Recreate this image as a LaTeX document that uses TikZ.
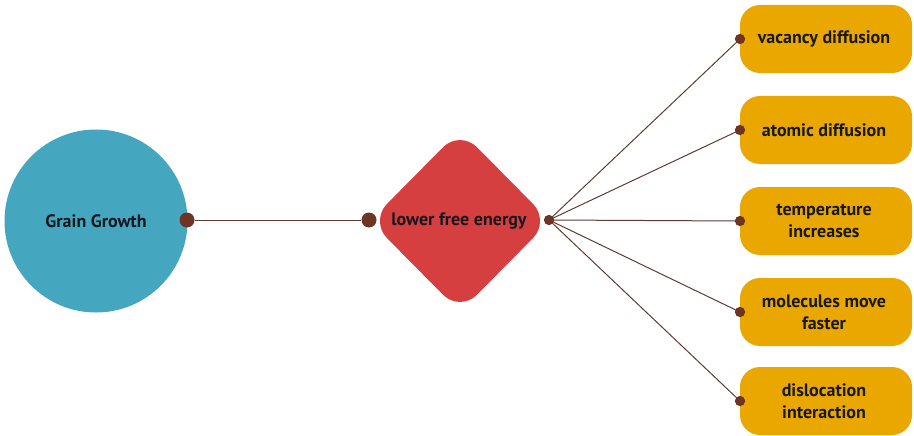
\documentclass[tikz,border=0pt]{standalone}
\usepackage{fontspec}
\setmainfont{PT Sans}
\usetikzlibrary{shapes.geometric}
\definecolor{teal}{HTML}{45A6C0}
\definecolor{redd}{HTML}{D63F40}
\definecolor{gold}{HTML}{E9A700}
\definecolor{dotc}{HTML}{6E3424}
\definecolor{linec}{HTML}{5E3C32}
\definecolor{txt}{HTML}{16181E}
\tikzset{
  x=1pt,y=-1pt,
  lbl/.style={font=\bfseries\fontsize{18}{22}\selectfont, text=txt, align=center},
  bigdot/.style={circle, fill=dotc, inner sep=0, minimum size=15pt},
  smalldot/.style={circle, fill=dotc, inner sep=0, minimum size=10pt},
  goldbox/.style={rectangle, rounded corners=20pt, fill=gold, minimum width=172pt, minimum height=68pt, inner sep=0},
  conn/.style={linec, line width=1pt},
}
\begin{document}
\begin{tikzpicture}
\useasboundingbox (0,0) rectangle (914,436);
% circle
\node[circle, fill=teal, minimum size=183pt, inner sep=0] (gg) at (96,221) {};
\node[lbl] (ggt) at (96,221) {Grain Growth};
% diamond
\node[diamond, fill=redd, minimum width=180pt, minimum height=182pt, inner sep=0, rounded corners=24pt] (lfe) at (460,221) {};
\node[lbl] (lfet) at (459,221) {lower free energy};
% boxes
\node[goldbox] (b1) at (826,39) {};
\node[goldbox] (b2) at (826,130) {};
\node[goldbox] (b3) at (826,221) {};
\node[goldbox] (b4) at (826,312) {};
\node[goldbox] (b5) at (826,401) {};
\node[lbl] (t1) at (824,39) {vacancy diffusion};
\node[lbl] (t2) at (824,130) {atomic diffusion};
\node[lbl] (t3) at (824,221) {temperature\\increases};
\node[lbl] (t4) at (824,312) {molecules move\\faster};
\node[lbl] (t5) at (824,401) {dislocation\\interaction};
% dots
\node[bigdot] (d0) at (187,220) {};
\node[bigdot] (d1) at (369,220) {};
\node[smalldot] (d2) at (549,220) {};
\node[smalldot] (e1) at (740,39) {};
\node[smalldot] (e2) at (740,130) {};
\node[smalldot] (e3) at (740,221) {};
\node[smalldot] (e4) at (740,312) {};
\node[smalldot] (e5) at (740,401) {};
% connectors
\draw[conn] (d0) -- (d1);
\foreach \e in {e1,e2,e3,e4,e5} \draw[conn] (d2.center) -- (\e.center);
\node[smalldot] at (d2) {};
\foreach \e in {e1,e2,e3,e4,e5} \node[smalldot] at (\e) {};
\end{tikzpicture}
\end{document}
